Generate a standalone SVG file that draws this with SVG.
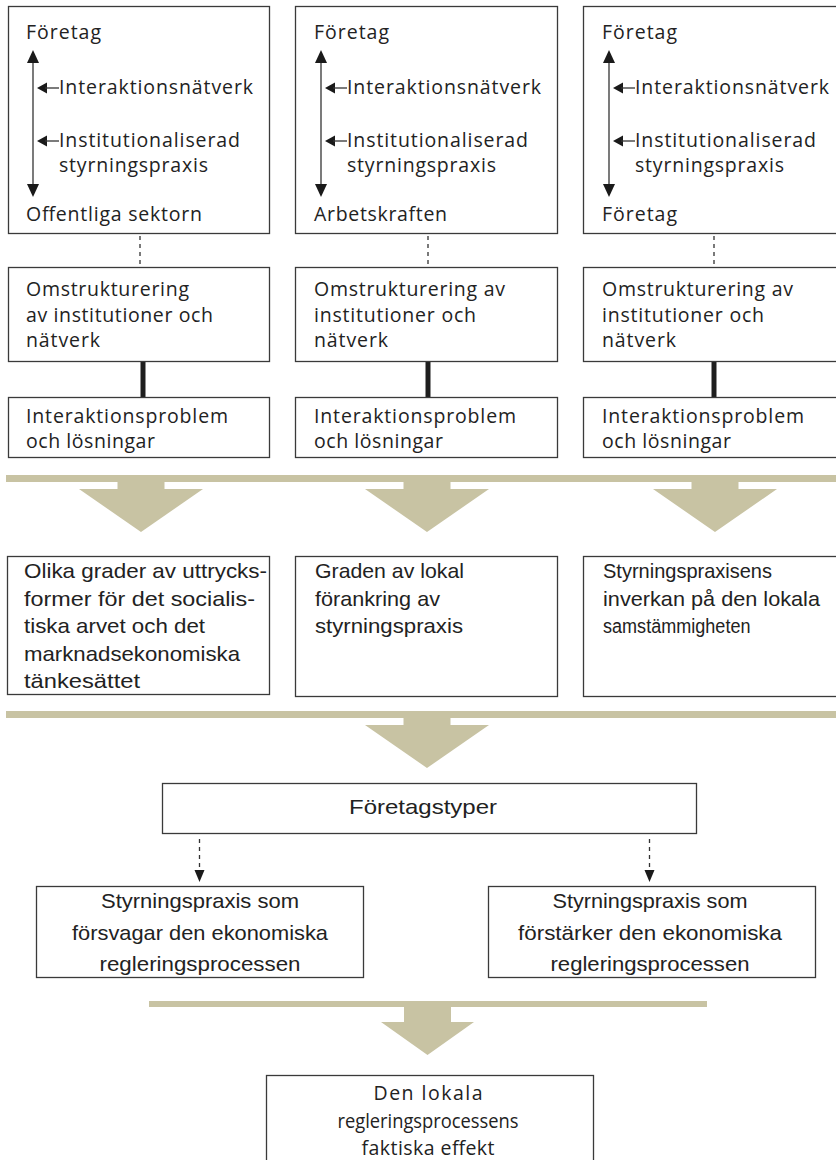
<svg xmlns="http://www.w3.org/2000/svg" width="836" height="1160" viewBox="0 0 836 1160">
<style>
.box{fill:#fff;stroke:#3a3a3a;stroke-width:1.3}
.h{font-family:"Open Sans","Noto Sans","DejaVu Sans",sans-serif;font-size:19.5px;fill:#222}
.c{font-family:"Liberation Sans",Arial,sans-serif;font-size:21px;fill:#222}
.mid{text-anchor:middle}
.tan{fill:#c8c3a3}
.vline{stroke:#333;stroke-width:1.3;fill:none}
.dash{stroke:#333;stroke-width:1.3;stroke-dasharray:4 4;fill:none}
.thick{stroke:#1e1e1e;stroke-width:5;fill:none}
.head{fill:#1a1a1a}
</style>
<defs>
<g id="dblarrow">
<line class="vline" x1="0" y1="60" x2="0" y2="188"/>
<polygon class="head" points="0,50 -6,63 6,63"/>
<polygon class="head" points="0,197 -6,184 6,184"/>
<polygon class="head" points="4,88 14,82.5 14,93.5"/>
<line class="vline" x1="12" y1="88" x2="26" y2="88"/>
<polygon class="head" points="4,141 14,135.5 14,146.5"/>
<line class="vline" x1="12" y1="141" x2="26" y2="141"/>
</g>
<polygon id="bigarrow" class="tan" points="-23.5,0 23.5,0 23.5,7 62,7 0,50 -62,7 -23.5,7"/>
</defs>

<g id="connectors">
<line class="dash" x1="140" y1="236" x2="140" y2="264"/>
<line class="dash" x1="428" y1="236" x2="428" y2="264"/>
<line class="dash" x1="714" y1="236" x2="714" y2="264"/>
<line class="thick" x1="143" y1="362" x2="143" y2="397"/>
<line class="thick" x1="428" y1="362" x2="428" y2="397"/>
<line class="thick" x1="714" y1="362" x2="714" y2="397"/>
<rect class="tan" x="6" y="475" width="830" height="7"/>
<use href="#bigarrow" x="141" y="482"/>
<use href="#bigarrow" x="427" y="482"/>
<use href="#bigarrow" x="715" y="482"/>
<rect class="tan" x="6" y="711" width="830" height="7"/>
<use href="#bigarrow" x="427" y="718"/>
<line class="dash" x1="199.5" y1="839" x2="199.5" y2="872"/>
<polygon class="head" points="199.5,882 194.5,870 204.5,870"/>
<line class="dash" x1="649.5" y1="839" x2="649.5" y2="872"/>
<polygon class="head" points="649.5,882 644.5,870 654.5,870"/>
<rect class="tan" x="149" y="1001" width="558" height="6"/>
<polygon class="tan" points="404,1007 451,1007 451,1022 474,1022 427.5,1055 381,1022 404,1022"/>
</g>

<g id="n1">
<rect class="box" x="8.5" y="6.5" width="261" height="227"/>
<text class="h" x="26" y="39" textLength="75" lengthAdjust="spacing">Företag</text>
<use href="#dblarrow" x="33" y="0"/>
<text class="h" x="59" y="94" textLength="194" lengthAdjust="spacing">Interaktionsnätverk</text>
<text class="h" x="59" y="147" textLength="181" lengthAdjust="spacing">Institutionaliserad</text>
<text class="h" x="59" y="172" textLength="149" lengthAdjust="spacing">styrningspraxis</text>
<text class="h" x="26" y="221" textLength="176" lengthAdjust="spacing">Offentliga sektorn</text>
</g>
<g id="n2">
<rect class="box" x="295.5" y="6.5" width="262" height="227"/>
<text class="h" x="314" y="39" textLength="75" lengthAdjust="spacing">Företag</text>
<use href="#dblarrow" x="321" y="0"/>
<text class="h" x="347" y="94" textLength="194" lengthAdjust="spacing">Interaktionsnätverk</text>
<text class="h" x="347" y="147" textLength="181" lengthAdjust="spacing">Institutionaliserad</text>
<text class="h" x="347" y="172" textLength="149" lengthAdjust="spacing">styrningspraxis</text>
<text class="h" x="314" y="221" textLength="133" lengthAdjust="spacing">Arbetskraften</text>
</g>
<g id="n3">
<rect class="box" x="583.5" y="6.5" width="262" height="227"/>
<text class="h" x="602" y="39" textLength="75" lengthAdjust="spacing">Företag</text>
<use href="#dblarrow" x="609" y="0"/>
<text class="h" x="635" y="94" textLength="194" lengthAdjust="spacing">Interaktionsnätverk</text>
<text class="h" x="635" y="147" textLength="181" lengthAdjust="spacing">Institutionaliserad</text>
<text class="h" x="635" y="172" textLength="149" lengthAdjust="spacing">styrningspraxis</text>
<text class="h" x="602" y="221" textLength="75" lengthAdjust="spacing">Företag</text>
</g>

<g id="n4">
<rect class="box" x="8.5" y="267.5" width="261" height="94"/>
<text class="h" x="26" y="296" textLength="163" lengthAdjust="spacing">Omstrukturering</text>
<text class="h" x="26" y="322" textLength="187" lengthAdjust="spacing">av institutioner och</text>
<text class="h" x="26" y="347" textLength="74" lengthAdjust="spacing">nätverk</text>
</g>
<g id="n5">
<rect class="box" x="295.5" y="267.5" width="262" height="94"/>
<text class="h" x="314" y="296" textLength="191" lengthAdjust="spacing">Omstrukturering av</text>
<text class="h" x="314" y="322" textLength="162" lengthAdjust="spacing">institutioner och</text>
<text class="h" x="314" y="347" textLength="74" lengthAdjust="spacing">nätverk</text>
</g>
<g id="n6">
<rect class="box" x="583.5" y="267.5" width="262" height="94"/>
<text class="h" x="602" y="296" textLength="191" lengthAdjust="spacing">Omstrukturering av</text>
<text class="h" x="602" y="322" textLength="162" lengthAdjust="spacing">institutioner och</text>
<text class="h" x="602" y="347" textLength="74" lengthAdjust="spacing">nätverk</text>
</g>

<g id="n7">
<rect class="box" x="8.5" y="397.5" width="261" height="60"/>
<text class="h" x="26" y="423" textLength="202" lengthAdjust="spacing">Interaktionsproblem</text>
<text class="h" x="26" y="448" textLength="129" lengthAdjust="spacing">och lösningar</text>
</g>
<g id="n8">
<rect class="box" x="295.5" y="397.5" width="262" height="60"/>
<text class="h" x="314" y="423" textLength="202" lengthAdjust="spacing">Interaktionsproblem</text>
<text class="h" x="314" y="448" textLength="129" lengthAdjust="spacing">och lösningar</text>
</g>
<g id="n9">
<rect class="box" x="583.5" y="397.5" width="262" height="60"/>
<text class="h" x="602" y="423" textLength="202" lengthAdjust="spacing">Interaktionsproblem</text>
<text class="h" x="602" y="448" textLength="129" lengthAdjust="spacing">och lösningar</text>
</g>

<g id="n10">
<rect class="box" x="7.5" y="556.5" width="262" height="138"/>
<text class="c" x="24" y="578" textLength="243" lengthAdjust="spacingAndGlyphs">Olika grader av uttrycks-</text>
<text class="c" x="24" y="606" textLength="231" lengthAdjust="spacingAndGlyphs">former för det socialis-</text>
<text class="c" x="24" y="633" textLength="181" lengthAdjust="spacingAndGlyphs">tiska arvet och det</text>
<text class="c" x="24" y="661" textLength="216" lengthAdjust="spacingAndGlyphs">marknadsekonomiska</text>
<text class="c" x="24" y="688" textLength="116" lengthAdjust="spacingAndGlyphs">tänkesättet</text>
</g>
<g id="n11">
<rect class="box" x="295.5" y="556.5" width="262" height="140"/>
<text class="c" x="315" y="578" textLength="149" lengthAdjust="spacingAndGlyphs">Graden av lokal</text>
<text class="c" x="315" y="606" textLength="125" lengthAdjust="spacingAndGlyphs">förankring av</text>
<text class="c" x="315" y="633" textLength="148" lengthAdjust="spacingAndGlyphs">styrningspraxis</text>
</g>
<g id="n12">
<rect class="box" x="583.5" y="556.5" width="262" height="140"/>
<text class="c" x="603" y="578" textLength="169" lengthAdjust="spacingAndGlyphs">Styrningspraxisens</text>
<text class="c" x="603" y="606" textLength="217" lengthAdjust="spacingAndGlyphs">inverkan på den lokala</text>
<text class="c" transform="translate(603,633) scale(0.86,1)" x="0" y="0">samstämmigheten</text>
</g>

<g id="n13">
<rect class="box" x="162.5" y="783.5" width="534" height="50"/>
<text class="c mid" x="423" y="814" textLength="148" lengthAdjust="spacingAndGlyphs">Företagstyper</text>
</g>
<g id="n14">
<rect class="box" x="36.5" y="886.5" width="327" height="91"/>
<text class="c mid" x="200" y="908" textLength="198" lengthAdjust="spacingAndGlyphs">Styrningspraxis som</text>
<text class="c mid" x="200" y="940" textLength="256" lengthAdjust="spacingAndGlyphs">försvagar den ekonomiska</text>
<text class="c mid" x="200" y="971" textLength="201" lengthAdjust="spacingAndGlyphs">regleringsprocessen</text>
</g>
<g id="n15">
<rect class="box" x="488.5" y="886.5" width="327" height="91"/>
<text class="c mid" x="650" y="908" textLength="195" lengthAdjust="spacingAndGlyphs">Styrningspraxis som</text>
<text class="c mid" x="650" y="940" textLength="264" lengthAdjust="spacingAndGlyphs">förstärker den ekonomiska</text>
<text class="c mid" x="650" y="971" textLength="199" lengthAdjust="spacingAndGlyphs">regleringsprocessen</text>
</g>
<g id="n16">
<rect class="box" x="266.5" y="1075.5" width="327" height="100"/>
<text class="h mid" x="428" y="1100" textLength="109" lengthAdjust="spacing">Den lokala</text>
<text class="h mid" transform="translate(428,1128) scale(0.94,1)" x="0" y="0">regleringsprocessens</text>
<text class="h mid" x="428" y="1155" textLength="133" lengthAdjust="spacing">faktiska effekt</text>
</g>
</svg>
